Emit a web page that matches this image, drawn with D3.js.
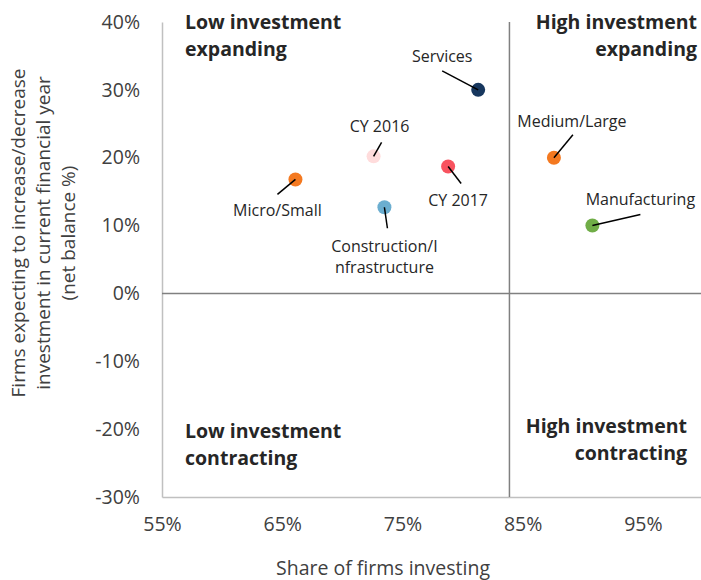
<!DOCTYPE html>
<html>
<head>
<meta charset="utf-8">
<script src="https://cdn.jsdelivr.net/npm/d3@7"></script>
<style>
  body { margin: 0; background: #fff; }
  svg text { font-family: "Open Sans", "Noto Sans", sans-serif; }
</style>
</head>
<body>
<div id="chart-area"></div>
<script>
// data
var names = ["Services", "Medium/Large", "Manufacturing", "CY 2016", "CY 2017", "Construction/I\nnfrastructure", "Micro/Small"];
var shareInvesting = [0.813, 0.876, 0.908, 0.726, 0.788, 0.735, 0.661];
var netBalance = [0.300, 0.200, 0.100, 0.202, 0.187, 0.127, 0.168];
var pointColors = ["#17375e", "#f47920", "#70ad47", "#ffdcdc", "#f8535f", "#6baed0", "#f47920"];

var xTicks = [0.55, 0.65, 0.75, 0.85, 0.95];
var yTicks = [-0.3, -0.2, -0.1, 0, 0.1, 0.2, 0.3, 0.4];
var dividerX = 0.839;   // vertical split between low and high investment
var dividerY = 0;

var quadrants = [
  {lines: ["Low investment", "expanding"], x: 0.55, y: 0.4, side: "left", top: true},
  {lines: ["High investment", "expanding"], x: 1.0, y: 0.4, side: "right", top: true},
  {lines: ["Low investment", "contracting"], x: 0.55, y: -0.3, side: "left", top: false},
  {lines: ["High investment", "contracting"], x: 1.0, y: -0.3, side: "right", top: false}
];

// label layout: offsets from the point, px (leader end, text anchor)
var labelLayout = [
  {lx: -36, ly: -19, tx: -36, ty: -28},
  {lx: 19, ly: -23, tx: 18, ty: -31},
  {lx: 48, ly: -11, tx: 48, ty: -21},
  {lx: 8, ly: -14, tx: 6, ty: -24},
  {lx: 13, ly: 17, tx: 10, ty: 39},
  {lx: 3, ly: 21, tx: 0, ty: 45},
  {lx: -18, ly: 15, tx: -18, ty: 37}
];

var width = 701, height = 580;
var svg = d3.select("#chart-area").append("svg").attr("width", width).attr("height", height);

var x = d3.scaleLinear().domain([0.55, 1.0]).range([162, 703]);
var y = d3.scaleLinear().domain([-0.3, 0.4]).range([497, 22]);
var pct = function(d) { return Math.round(d * 100) + "%"; };

// axes
var xAxis = svg.append("g").attr("transform", "translate(0," + y(-0.3) + ")")
  .call(d3.axisBottom(x).tickValues(xTicks).tickFormat(pct).tickSize(0).tickPadding(20));
var yAxis = svg.append("g").attr("transform", "translate(" + x(0.55) + ",0)")
  .call(d3.axisLeft(y).tickValues(yTicks).tickFormat(pct).tickSize(0).tickPadding(22));
[xAxis, yAxis].forEach(function(a) {
  a.select(".domain").attr("stroke", "#c0c0c0").attr("stroke-width", 1.5);
  a.selectAll("text").attr("font-size", "19.5px").attr("fill", "#404040")
    .style("font-family", "'Open Sans', sans-serif");
});

// quadrant dividers
svg.append("line")
  .attr("x1", x(0.55)).attr("x2", x(1.0))
  .attr("y1", y(dividerY)).attr("y2", y(dividerY))
  .attr("stroke", "#808080").attr("stroke-width", 1.5);
svg.append("line")
  .attr("x1", x(dividerX)).attr("x2", x(dividerX))
  .attr("y1", y(0.4)).attr("y2", y(-0.3))
  .attr("stroke", "#808080").attr("stroke-width", 1.5);

// quadrant labels
quadrants.forEach(function(q) {
  var tx = q.side == "left" ? x(q.x) + 23 : x(q.x) - 6;
  if (!q.top && q.side == "right") tx = x(q.x) - 16;
  var ty = q.top ? y(q.y) + 7 : (q.side == "left" ? y(q.y) - 59 : y(q.y) - 64);
  q.lines.forEach(function(l, i) {
    svg.append("text")
      .attr("x", tx).attr("y", ty + i * 27)
      .attr("text-anchor", q.side == "left" ? "start" : "end")
      .attr("font-size", "19.5px").attr("font-weight", "bold").attr("fill", "#262626")
      .text(l);
  });
});

// axis titles
svg.append("text")
  .attr("x", 383).attr("y", 575)
  .attr("text-anchor", "middle").attr("font-size", "19.5px").attr("fill", "#404040")
  .text("Share of firms investing");

var yTitle = ["Firms expecting to increase/decrease", "investment in current financial year", "(net balance %)"];
yTitle.forEach(function(t, i) {
  svg.append("text")
    .attr("transform", "translate(" + (25 + i * 25) + ",233) rotate(-90)")
    .attr("text-anchor", "middle").attr("font-size", "19px").attr("fill", "#404040")
    .text(t);
});

// points, leaders, labels
var data = names.map(function(n, i) {
  return {name: n, share: shareInvesting[i], net: netBalance[i], color: pointColors[i], lay: labelLayout[i]};
});

var g = svg.append("g");
g.selectAll("circle").data(data).enter().append("circle")
  .attr("cx", function(d) { return x(d.share); })
  .attr("cy", function(d) { return y(d.net); })
  .attr("r", 7)
  .attr("fill", function(d) { return d.color; });

g.selectAll("line.leader").data(data).enter().append("line")
  .attr("class", "leader")
  .attr("x1", function(d) { return x(d.share); })
  .attr("y1", function(d) { return y(d.net); })
  .attr("x2", function(d) { return x(d.share) + d.lay.lx; })
  .attr("y2", function(d) { return y(d.net) + d.lay.ly; })
  .attr("stroke", "#000").attr("stroke-width", 1.5);

data.forEach(function(d) {
  d.name.split("\n").forEach(function(l, i) {
    g.append("text")
      .attr("x", x(d.share) + d.lay.tx)
      .attr("y", y(d.net) + d.lay.ty + i * 21)
      .attr("text-anchor", "middle").attr("font-size", "16px").attr("fill", "#262626")
      .text(l);
  });
});
</script>
</body>
</html>
